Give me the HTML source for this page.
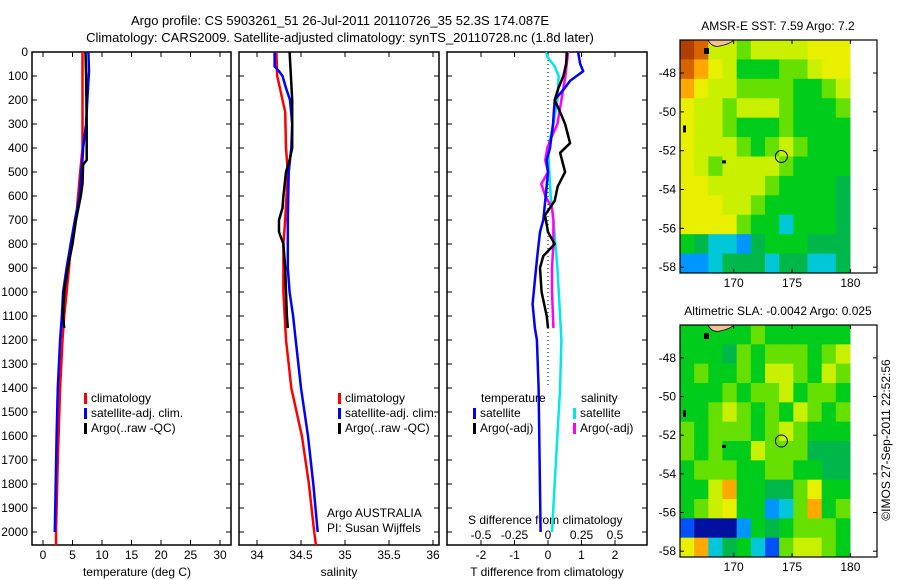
<!DOCTYPE html>
<html><head><meta charset="utf-8"><style>
body{margin:0;background:#fff;}
svg{display:block;font-family:"Liberation Sans",sans-serif;}
text{font-size:12px;fill:#000;}
</style></head><body>
<svg id="fig" width="900" height="580" viewBox="0 0 900 580">
<text x="340" y="25" text-anchor="middle" style="font-size:13px">Argo profile: CS 5903261_51 26-Jul-2011 20110726_35 52.3S 174.087E</text>
<text x="340" y="42" text-anchor="middle" style="font-size:13px">Climatology: CARS2009. Satellite-adjusted climatology: synTS_20110728.nc (1.8d later)</text>
<g id="g"></g>
</svg>
<script>
// ---------- data ----------
const depthTicks=[0,100,200,300,400,500,600,700,800,900,1000,1100,1200,1300,1400,1500,1600,1700,1800,1900,2000];
const tempTicks=[0,5,10,15,20,25,30];
const salTicks=[34,34.5,35,35.5,36];
const tdTicks=[-2,-1,0,1,2];
const sdTicks=[-0.5,-0.25,0,0.25,0.5];
const tempClimD=[0,400,500,700,800,900,1000,1100,1200,1400,1700,2000,2055];
const tempClim=[6.7,6.7,6.3,5.6,4.7,4.4,4.0,3.6,3.3,2.9,2.5,2.2,2.2];
const tempSatD=[0,80,200,300,400,450,500,600,700,800,900,1000,1100,1200,1400,1600,2000];
const tempSat=[7.7,7.8,7.5,7.3,6.8,6.7,6.5,6.2,5.4,4.7,4.0,3.4,3.2,2.9,2.5,2.3,2.0];
const tempArgoD=[0,100,300,450,470,550,600,700,800,900,1000,1100,1150];
const tempArgo=[7.2,7.3,7.4,7.4,6.8,6.7,6.4,5.6,5.0,4.2,3.6,3.4,3.6];
const salClimD=[0,100,150,200,250,400,500,700,800,1000,1200,1300,1400,1500,1600,1800,2000,2055];
const salClim=[34.22,34.23,34.26,34.29,34.32,34.33,34.35,34.32,34.30,34.30,34.33,34.36,34.39,34.45,34.51,34.59,34.65,34.67];
const salSatD=[0,60,80,100,150,200,300,400,500,700,900,1000,1100,1200,1400,1600,1800,2000];
const salSat=[34.20,34.20,34.25,34.29,34.33,34.375,34.40,34.39,34.36,34.35,34.35,34.37,34.41,34.44,34.50,34.58,34.64,34.69];
const salArgoD=[0,200,300,400,450,500,600,650,700,750,800,900,1000,1100,1150];
const salArgo=[34.37,34.40,34.40,34.40,34.37,34.33,34.30,34.29,34.25,34.25,34.30,34.32,34.33,34.34,34.35];
const dTSatD=[0,50,80,120,150,200,300,400,450,500,600,700,750,850,950,1050,1150,1200,1400,1700,2000];
const dTSat=[0.9,0.96,1.05,0.66,0.5,0.2,0.15,0.06,-0.04,0,-0.07,-0.14,-0.24,-0.32,-0.39,-0.46,-0.39,-0.33,-0.28,-0.25,-0.22];
const dTArgoD=[0,50,100,150,200,250,300,380,420,500,560,620,680,750,800,850,900,1000,1100,1150];
const dTArgo=[0.56,0.54,0.46,0.31,0.2,0.36,0.51,0.66,0.36,0.51,0.29,0.2,-0.09,0,0.2,-0.14,-0.24,-0.19,-0.04,0];
const dSSatD=[0,20,60,100,200,300,400,500,600,700,900,1100,1200,1400,1700,2000];
const dSSat=[-0.015,-0.005,0.05,0.08,0.07,0.04,0,0.01,0.02,0.04,0.07,0.09,0.1,0.09,0.06,0.03];
const dSArgoD=[0,100,200,300,350,400,450,500,550,600,650,700,800,900,1000,1150];
const dSArgo=[0.15,0.13,0.10,0.07,0.03,-0.005,-0.02,0,-0.05,-0.02,0.03,0.04,0.04,0.03,0.03,0.04];
const mapLatTicks=[-48,-50,-52,-54,-56,-58];
const mapLonTicks=[170,175,180];
const sstGrid=[
[11,10,7,7,6,7,7,7,7,8,8,8],
[10,9,8,7,5,5,5,6,6,7,8,8],
[9,8,7,7,6,6,6,6,5,5,6,7],
[8,7,7,6,7,7,7,6,5,5,5,6],
[8,7,7,6,5,5,5,6,5,5,5,5],
[8,7,7,7,6,5,6,7,6,5,5,5],
[8,7,6,7,7,7,7,6,5,5,5,5],
[8,8,7,7,7,7,6,5,5,5,5,4],
[8,8,8,7,7,6,5,5,5,5,5,4],
[8,8,8,8,6,5,5,3,5,5,5,4],
[5,4,3,3,2,4,5,5,5,4,4,4],
[2,2,3,4,4,4,3,4,4,3,3,4]];
const slaGrid=[
[5,5,5,5,5,6,5,5,5,5,5,5],
[5,5,5,4,6,5,6,6,6,5,6,7],
[5,6,5,5,6,5,7,7,6,5,7,6],
[5,5,5,6,5,6,6,7,5,6,6,5],
[5,5,6,7,6,5,6,5,7,6,5,6],
[6,5,6,6,6,5,6,7,6,5,5,5],
[6,5,6,5,5,7,6,6,6,4,4,4],
[5,6,6,6,5,5,6,6,5,5,4,4],
[5,5,7,9,5,5,4,4,6,8,5,5],
[5,6,7,8,5,5,2,3,6,9,5,6],
[1,0,0,0,2,5,4,5,6,6,6,5],
[8,9,3,4,5,3,1,6,7,7,6,5]];
const cmap=['#0010a0','#0050ff','#0096ff','#00c8d8','#00b84a','#00cc1c','#66e000','#c8f000','#e8f000','#ffa800','#d86400','#b04000'];

// ---------- drawing ----------
const NS='http://www.w3.org/2000/svg';
const G=document.getElementById('g');
function el(tag,attrs,parent){const e=document.createElementNS(NS,tag);for(const k in attrs)e.setAttribute(k,attrs[k]);(parent||G).appendChild(e);return e;}
function txt(x,y,s,anchor,parent){const t=el('text',{x:x,y:y,'text-anchor':anchor||'middle'},parent);t.textContent=s;return t;}
const yTop=52, yBot=545;
const yD=d=>yTop+d*0.24;
const panels=[
 {l:32,r:231,x:v=>43+v*5.9,name:'temperature'},
 {l:239,r:439,x:v=>257+(v-34)*88,name:'salinity'},
 {l:447,r:647,x:v=>548+v*33.5,name:'difference'}];
const xS=v=>548+v*134;
panels.forEach((p,i)=>{
  const f=el('rect',{x:p.l,y:yTop,width:p.r-p.l,height:yBot-yTop,fill:'none',stroke:'#000','stroke-width':1.5});
  
  
  depthTicks.forEach(d=>{
    el('line',{x1:p.l,x2:p.l+5,y1:yD(d),y2:yD(d),stroke:'#000'});
    el('line',{x1:p.r-5,x2:p.r,y1:yD(d),y2:yD(d),stroke:'#000'});
  });
});
depthTicks.forEach(d=>{
  const t=txt(28,yD(d)+4,String(d),'end');
  
  
});
function xticks(vals,fx,labels,ly,name){
  vals.forEach((v,i)=>{
    const x=fx(v);
    el('line',{x1:x,x2:x,y1:yTop,y2:yTop+5,stroke:'#000'});
    el('line',{x1:x,x2:x,y1:yBot-5,y2:yBot,stroke:'#000'});
    const t=txt(x,ly,labels[i]);
    
    
  });
}
xticks(tempTicks,panels[0].x,tempTicks.map(String),559,'temperature-tick-label');
xticks(salTicks,panels[1].x,salTicks.map(String),559,'salinity-tick-label');
xticks(tdTicks,panels[2].x,tdTicks.map(String),559,'t-difference-tick-label');
sdTicks.forEach(v=>{
  const t=txt(xS(v),539,String(v));
  
  
});
[[137,'temperature (deg C)','x-axis-title-temperature'],[339,'salinity','x-axis-title-salinity'],[547,'T difference from climatology','x-axis-title-t-difference']].forEach(a=>{
  const t=txt(a[0],576,a[1]);
  
  
});
let t0=txt(468,524,'S difference from climatology','start');


// zero line
const z=el('line',{x1:548,x2:548,y1:yTop,y2:yD(1400),stroke:'#000','stroke-dasharray':'1,3'});


function line(ds,vs,fx,color,name){
  const pts=ds.map((d,i)=>fx(vs[i]).toFixed(1)+','+yD(d).toFixed(1)).join(' ');
  const pl=el('polyline',{points:pts,fill:'none',stroke:color,'stroke-width':2.5,'stroke-linejoin':'round'});
  
  
}
line(tempClimD,tempClim,panels[0].x,'#ff0000','temperature-climatology-line');
line(tempSatD,tempSat,panels[0].x,'#0000ff','temperature-satellite-line');
line(tempArgoD,tempArgo,panels[0].x,'#000','temperature-argo-line');
line(salClimD,salClim,panels[1].x,'#ff0000','salinity-climatology-line');
line(salSatD,salSat,panels[1].x,'#0000ff','salinity-satellite-line');
line(salArgoD,salArgo,panels[1].x,'#000','salinity-argo-line');
line(dSSatD,dSSat,xS,'#00e8e8','s-diff-satellite-line');
line(dSArgoD,dSArgo,xS,'#ff00ff','s-diff-argo-line');
line(dTSatD,dTSat,panels[2].x,'#0000ff','t-diff-satellite-line');
line(dTArgoD,dTArgo,panels[2].x,'#000','t-diff-argo-line');
// legends
function legend(x,y,color,label,name){
  const m=el('rect',{x:x,y:y-9,width:3,height:11,fill:color});
  
  
  const t=txt(x+7,y,label,'start');
  
  
}
[[84,'climatology','#f00'],[84,'satellite-adj. clim.','#00f'],[84,'Argo(..raw -QC)','#000']].forEach((a,i)=>legend(a[0],402+i*15,a[2],a[1],'legend-temp-'+i));
[[338,'climatology','#f00'],[338,'satellite-adj. clim.','#00f'],[338,'Argo(..raw -QC)','#000']].forEach((a,i)=>legend(a[0],402+i*15,a[2],a[1],'legend-sal-'+i));
let lt=txt(481,402,'temperature','start');
let ls=txt(581,402,'salinity','start');
legend(473,417,'#00f','satellite','legend-diff-t-satellite');
legend(473,432,'#000','Argo(-adj)','legend-diff-t-argo');
legend(573,417,'#00e8e8','satellite','legend-diff-s-satellite');
legend(573,432,'#f0f','Argo(-adj)','legend-diff-s-argo');
let a1=txt(327,517,'Argo AUSTRALIA','start');
let a2=txt(327,532,'PI: Susan Wijffels','start');

// ---------- maps ----------
function map(top,bot,grid,title,name){
  const L=680,R=877,DR=850;
  const lat0=-46.3;const py=(bot-top)/12;
  const lx=lon=>L+(lon-165.4)*11.67;
  const ly=lat=>top+(lat0-lat)*py;
  const cw=(DR-L)/grid[0].length, ch=(bot-top)/grid.length;
  grid.forEach((row,r)=>row.forEach((v,c)=>{
    const cell=el('rect',{x:L+c*cw,y:top+r*ch,width:cw+0.5,height:ch+0.5,fill:cmap[v]});
    
    
  }));
  const land=el('path',{d:`M${L+28},${top} q4,8 12,6 q10,-2 14,-6 z`,fill:'#f5c090',stroke:'#000','stroke-width':0.8});
  
  
  el('rect',{x:L+24,y:top+8,width:5,height:6,fill:'#000'});
  el('rect',{x:L+3,y:ly(-50.7),width:3,height:7,fill:'#000'});
  el('rect',{x:lx(169),y:ly(-52.5),width:4,height:3,fill:'#000'});
  const fr=el('rect',{x:L,y:top,width:R-L,height:bot-top,fill:'none',stroke:'#000','stroke-width':1.2});
  
  
  mapLatTicks.forEach(lat=>{
    const y=ly(lat);
    el('line',{x1:L,x2:L+4,y1:y,y2:y,stroke:'#000'});
    el('line',{x1:R-4,x2:R,y1:y,y2:y,stroke:'#000'});
    const t=txt(L-4,y+4,String(lat),'end');
    
    
  });
  mapLonTicks.forEach(lon=>{
    const x=lx(lon);
    el('line',{x1:x,x2:x,y1:top,y2:top+4,stroke:'#000'});
    el('line',{x1:x,x2:x,y1:bot-4,y2:bot,stroke:'#000'});
    const t=txt(x,bot+14,String(lon));
    
    
  });
  const c=el('circle',{cx:lx(174.087),cy:ly(-52.3),r:6,fill:'none',stroke:'#000'});
  
  
  const t=txt(778,top-10,title);
  
  
}
map(40,273,sstGrid,'AMSR-E SST: 7.59 Argo: 7.2','sst-map');
map(325,557,slaGrid,'Altimetric SLA: -0.0042 Argo: 0.025','sla-map');
const v=txt(0,0,'©IMOS 27-Sep-2011 22:52:56');
v.setAttribute('transform','translate(890,440) rotate(-90)');


</script>
</body></html>
